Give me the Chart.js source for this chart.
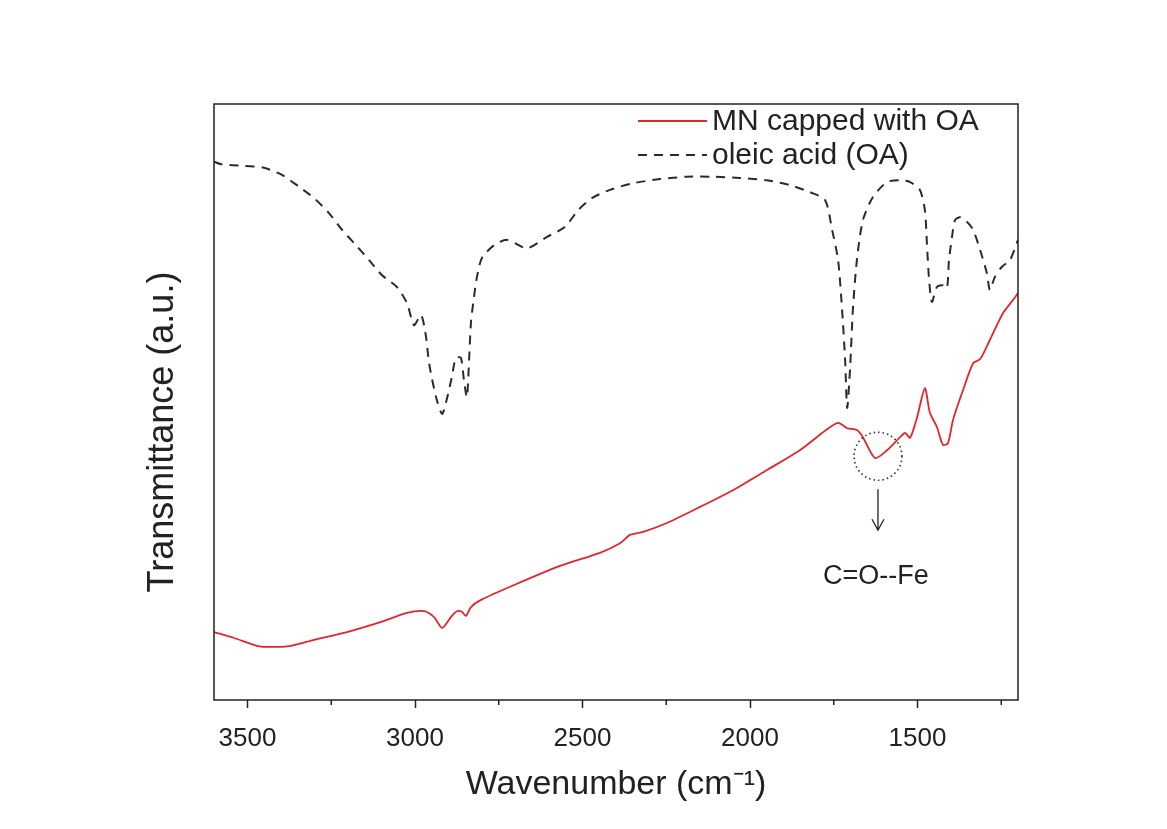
<!DOCTYPE html>
<html>
<head>
<meta charset="utf-8">
<title>FTIR - Transmittance</title>
<script src="https://cdn.jsdelivr.net/npm/chart.js@4.4.0/dist/chart.umd.min.js"></script>
<style>
    html, body { margin: 0; padding: 0; background: #fff; }
    #grafica-div { width: 1167px; height: 829px; }
</style>
</head>
<body>
<div id="grafica-div"><canvas id="myChart" width="1167" height="829"></canvas></div>
<script>

// acido oleico (OA) - linea discontinua
const numOndaOA = [3600, 3579, 3510, 3451, 3397, 3346, 3301, 3257, 3218, 3176, 3137, 3099, 3054, 3024, 3003, 2982,
    2967, 2958, 2937, 2919, 2904, 2890, 2878, 2863, 2854, 2845, 2839, 2833, 2824, 2815, 2800, 2764, 2725, 2666,
    2606, 2552, 2513, 2472, 2418, 2349, 2269, 2188, 2110, 2030, 1949, 1881, 1821, 1776, 1755, 1737, 1725, 1716,
    1710, 1701, 1693, 1681, 1663, 1633, 1591, 1552, 1522, 1493, 1478, 1472, 1466, 1457, 1442, 1424, 1412, 1406,
    1397, 1388, 1373, 1352, 1334, 1313, 1293, 1284, 1269, 1248, 1224, 1200];
const transOA = [90.3, 89.9, 89.6, 89.3, 88.1, 86.1, 84.2, 81.7, 78.9, 76.3, 73.8, 71.3, 69.3, 66.6, 62.9, 64.6,
    60.9, 56.5, 50.8, 48.0, 50.7, 54.2, 57.4, 57.4, 53.7, 50.8, 56.5, 63.3, 67.6, 71.0, 74.2, 76.3, 77.2, 75.8,
    77.7, 79.4, 82.2, 84.2, 85.6, 86.7, 87.4, 87.8, 87.8, 87.6, 87.2, 86.4, 85.2, 83.9, 78.9, 73.8, 65.4, 57.0,
    49.0, 55.9, 65.4, 73.8, 80.5, 84.4, 86.9, 87.2, 86.9, 85.6, 82.2, 76.7, 71.0, 66.8, 69.3, 69.6, 69.1, 73.8,
    77.7, 80.5, 81.0, 80.2, 78.9, 75.5, 71.6, 68.8, 71.0, 72.7, 73.8, 77.2];

// nanoparticulas recubiertas con OA - linea roja
const numOndaMN = [3600, 3540, 3472, 3430, 3370, 3301, 3203, 3101, 3024, 2973, 2943, 2919, 2893, 2875, 2860, 2848,
    2833, 2803, 2704, 2567, 2448, 2388, 2358, 2319, 2248, 2149, 2051, 1949, 1851, 1773, 1737, 1710, 1681, 1663,
    1627, 1591, 1552, 1537, 1522, 1501, 1478, 1463, 1442, 1424, 1409, 1394, 1364, 1334, 1313, 1284, 1245, 1215, 1200];
const transMN = [11.4, 10.4, 9.1, 8.9, 9.1, 10.1, 11.4, 13.1, 14.6, 14.9, 13.9, 12.1, 13.9, 14.9, 14.8, 14.1,
    15.6, 16.8, 19.3, 22.5, 24.7, 26.3, 27.7, 28.2, 29.7, 32.4, 35.2, 38.6, 41.9, 45.3, 46.5, 45.6, 45.3, 44.1,
    40.6, 41.9, 44.1, 44.8, 44.0, 47.5, 52.3, 48.2, 45.8, 42.8, 43.1, 47.0, 52.0, 56.5, 57.2, 60.4, 64.9, 67.1, 68.3];

// marcas del eje x
const etiquetasX = [3500, 3000, 2500, 2000, 1500];
const ticksMenores = [3250, 2750, 2250, 1750, 1250];

// anotacion del enlace C=O--Fe
const anotacion = { x: 1618, y: 40.9, texto: 'C=O--Fe' };
const tituloY = 'Transmittance (a.u.)';

const fuente = "'Liberation Sans', Arial, sans-serif";
const colorTexto = '#222';

function armarPuntos(xs, ys) {
    return xs.map((x, i) => ({ x: x, y: ys[i] }));
}

// marco, ticks menores, titulo Y, leyenda y anotacion
const extras = {
    id: 'extras',
    afterDraw(chart) {
        const ctx = chart.ctx;
        const area = chart.chartArea;
        const escalaX = chart.scales.x;
        const escalaY = chart.scales.y;

        ctx.save();
        // marco del area
        ctx.strokeStyle = colorTexto;
        ctx.lineWidth = 1.5;
        ctx.strokeRect(area.left, area.top, area.right - area.left, area.bottom - area.top);

        // ticks menores
        ticksMenores.forEach(v => {
            let px = escalaX.getPixelForValue(v);
            ctx.beginPath();
            ctx.moveTo(px, area.bottom);
            ctx.lineTo(px, area.bottom + 5);
            ctx.stroke();
        });

        // titulo del eje y (un poco mas abajo que el centro, como en la figura)
        ctx.save();
        ctx.translate(163, (area.top + area.bottom) / 2 + 30);
        ctx.rotate(-Math.PI / 2);
        ctx.font = '36px ' + fuente;
        ctx.fillStyle = colorTexto;
        ctx.textAlign = 'center';
        ctx.textBaseline = 'middle';
        ctx.fillText(tituloY, 0, 0);
        ctx.restore();

        // leyenda dentro del grafico
        ctx.font = '30px ' + fuente;
        ctx.textBaseline = 'middle';
        ctx.fillStyle = colorTexto;
        chart.data.datasets.forEach((ds, i) => {
            let y = area.top + 17 + i * 34;
            ctx.beginPath();
            ctx.setLineDash(ds.borderDash || []);
            ctx.strokeStyle = ds.borderColor;
            ctx.lineWidth = ds.borderWidth;
            ctx.moveTo(638, y);
            ctx.lineTo(707, y);
            ctx.stroke();
            ctx.setLineDash([]);
            ctx.fillText(ds.label, 712, y + 1);
        });

        // circulo punteado, flecha y texto
        let cx = escalaX.getPixelForValue(anotacion.x);
        let cy = escalaY.getPixelForValue(anotacion.y);
        ctx.beginPath();
        ctx.setLineDash([1.5, 3]);
        ctx.strokeStyle = '#2b2f45';
        ctx.lineWidth = 1.6;
        ctx.arc(cx, cy, 24, 0, Math.PI * 2);
        ctx.stroke();
        ctx.setLineDash([]);

        ctx.strokeStyle = colorTexto;
        ctx.lineWidth = 1.3;
        ctx.beginPath();
        ctx.moveTo(cx, cy + 33);
        ctx.lineTo(cx, cy + 74);
        ctx.moveTo(cx - 6, cy + 63);
        ctx.lineTo(cx, cy + 74);
        ctx.lineTo(cx + 6, cy + 63);
        ctx.stroke();

        ctx.font = '27px ' + fuente;
        ctx.textAlign = 'center';
        ctx.fillText(anotacion.texto, cx - 2, cy + 120);
        ctx.restore();
    }
};

let ctx = document.getElementById('myChart').getContext('2d');

let miGrafico = new Chart(ctx, {
    type: 'line',
    data: {
        datasets: [{
            label: 'MN capped with OA',
            data: armarPuntos(numOndaMN, transMN),
            borderColor: '#e3262c',
            borderWidth: 1.8,
            pointRadius: 0,
            tension: 0.25
        }, {
            label: 'oleic acid (OA)',
            data: armarPuntos(numOndaOA, transOA),
            borderColor: '#2a2a2a',
            borderWidth: 2,
            borderDash: [9, 7],
            pointRadius: 0,
            tension: 0.25
        }]
    },
    options: {
        responsive: false,
        animation: false,
        devicePixelRatio: 1,
        layout: {
            padding: { left: 0, right: 149, top: 104, bottom: 0 }
        },
        plugins: {
            legend: { display: false },
            tooltip: { enabled: false }
        },
        scales: {
            x: {
                type: 'linear',
                reverse: true,
                min: 1200,
                max: 3600,
                afterFit: (s) => { s.height = 129; },
                afterBuildTicks: (s) => { s.ticks = etiquetasX.map(v => ({ value: v })); },
                grid: {
                    drawOnChartArea: false,
                    drawTicks: true,
                    tickLength: 8,
                    tickWidth: 1.5,
                    tickColor: colorTexto
                },
                border: { display: false },
                ticks: {
                    font: { family: fuente, size: 26 },
                    color: colorTexto,
                    padding: 15,
                    maxRotation: 0,
                    callback: (v) => String(v)
                },
                title: {
                    display: true,
                    text: 'Wavenumber (cm\u207B\u00B9)',
                    font: { family: fuente, size: 34 },
                    color: colorTexto,
                    padding: { top: 0, bottom: 24 }
                }
            },
            y: {
                min: 0,
                max: 100,
                afterFit: (s) => { s.width = 214; },
                grid: { display: false },
                border: { display: false },
                ticks: { display: false },
                title: { display: false }
            }
        }
    },
    plugins: [extras]
});
</script>
</body>
</html>
